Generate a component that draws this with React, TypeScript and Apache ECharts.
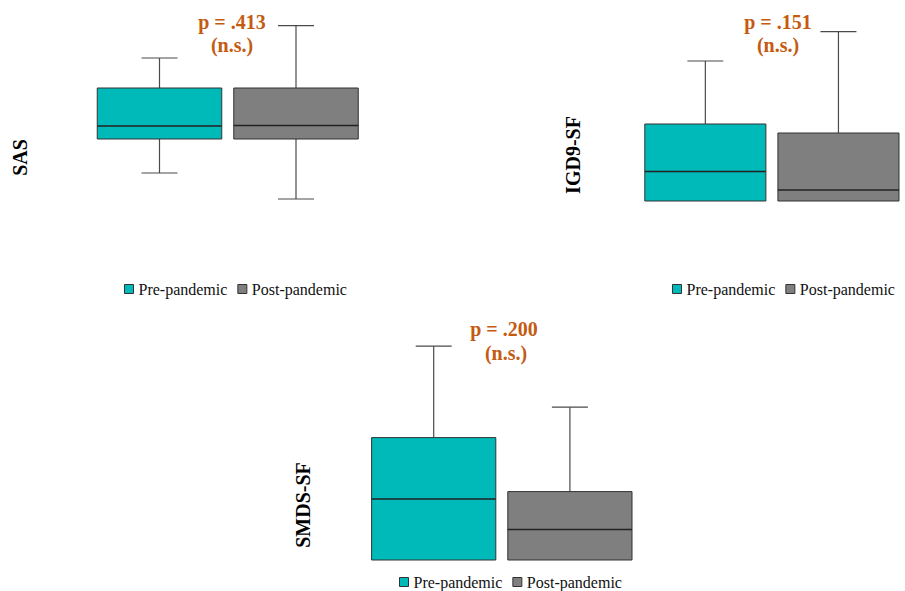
import React, { useEffect, useRef } from "react";
import * as echarts from "echarts";

// Box stats: [min, Q1, median, Q3, max] on an arbitrary (hidden) scale
const categories = ["Pre-pandemic", "Post-pandemic"];
const sasPre = [18.5, 35.5, 42, 61, 76];
const sasPost = [5.5, 35.5, 42.2, 61, 92.2];
const igdPre = [4.5, 4.5, 19.2, 43, 74.5];
const igdPost = [4.5, 4.5, 10, 38.5, 89.2];
const smdsPre = [5, 5, 35.5, 66.2, 111.9];
const smdsPost = [5, 5, 20.2, 39.2, 81.4];

const panelNames = ["SAS", "IGD9-SF", "SMDS-SF"];
const pLabels = ["p = .413", "p = .151", "p = .200"];
const nsLabel = "(n.s.)";

const TEAL = "#00B9B9";
const GRAY = "#7F7F7F";
const ORANGE = "#C55A11";
const FONT = '"Liberation Serif", "Times New Roman", serif';

function renderBox(params: any, api: any) {
  const x = api.value(0);
  const vMin = api.value(1);
  const vQ1 = api.value(2);
  const vMed = api.value(3);
  const vQ3 = api.value(4);
  const vMax = api.value(5);
  const [cx, yMin] = api.coord([x, vMin]);
  const yQ1 = api.coord([x, vQ1])[1];
  const yMed = api.coord([x, vMed])[1];
  const yQ3 = api.coord([x, vQ3])[1];
  const yMax = api.coord([x, vMax])[1];
  const band = api.size([1, 0])[0];
  const w = band - 12;
  const cap = 18;
  const color = api.visual("color");
  const wl = { stroke: "#4a4a4a", lineWidth: 1.2 };
  const children: any[] = [];
  if (vMax > vQ3) {
    children.push({ type: "line", shape: { x1: cx, y1: yQ3, x2: cx, y2: yMax }, style: wl });
    children.push({ type: "line", shape: { x1: cx - cap, y1: yMax, x2: cx + cap, y2: yMax }, style: wl });
  }
  if (vMin < vQ1) {
    children.push({ type: "line", shape: { x1: cx, y1: yQ1, x2: cx, y2: yMin }, style: wl });
    children.push({ type: "line", shape: { x1: cx - cap, y1: yMin, x2: cx + cap, y2: yMin }, style: wl });
  }
  children.push({
    type: "rect",
    shape: { x: cx - w / 2, y: yQ3, width: w, height: yQ1 - yQ3 },
    style: { fill: color, stroke: "#333333", lineWidth: 1 },
  });
  children.push({
    type: "line",
    shape: { x1: cx - w / 2, y1: yMed, x2: cx + w / 2, y2: yMed },
    style: { stroke: "#222222", lineWidth: 1.5 },
  });
  return { type: "group", children };
}

export default function App() {
  const ref = useRef<HTMLDivElement>(null);
  useEffect(() => {
    if (!ref.current) return;
    const chart = echarts.init(ref.current, null, { renderer: "svg" });
    const grids = [
      { left: 91.25, top: 10, width: 273, height: 200 },
      { left: 638.8, top: 10, width: 272, height: 200 },
      { left: 365.6, top: 320, width: 272.4, height: 250 },
    ];
    const yMax = [100, 100, 125];
    const panels = [
      [sasPre, sasPost],
      [igdPre, igdPost],
      [smdsPre, smdsPost],
    ];
    const series: any[] = [];
    panels.forEach((pair, i) => {
      pair.forEach((stats, j) => {
        series.push({
          type: "custom",
          name: categories[j],
          xAxisIndex: i,
          yAxisIndex: i,
          itemStyle: { color: j === 0 ? TEAL : GRAY },
          encode: { x: 0, y: [1, 2, 3, 4, 5] },
          data: [[j, ...stats]],
          renderItem: renderBox,
          clip: false,
        });
      });
    });
    const legendPos = [
      { left: 119, top: 276 },
      { left: 667, top: 276 },
      { left: 394, top: 569 },
    ];
    const textPos = [
      { lx: 20, ly: 157.5, px: 232, py: 21.5, nx: 232, ny: 45 },
      { lx: 572.5, ly: 155, px: 778, py: 21.5, nx: 778, ny: 45 },
      { lx: 302.5, ly: 505, px: 504, py: 328.5, nx: 506, ny: 353 },
    ];
    const graphic: any[] = [];
    textPos.forEach((t, i) => {
      graphic.push({
        type: "text",
        x: t.lx,
        y: t.ly,
        rotation: Math.PI / 2,
        style: {
          text: panelNames[i],
          font: `bold 20px ${FONT}`,
          fill: "#000",
          align: "center",
          verticalAlign: "middle",
        },
      });
      graphic.push({
        type: "text",
        x: t.px,
        y: t.py,
        style: {
          text: pLabels[i],
          font: `bold 20px ${FONT}`,
          fill: ORANGE,
          align: "center",
          verticalAlign: "middle",
        },
      });
      graphic.push({
        type: "text",
        x: t.nx,
        y: t.ny,
        style: {
          text: nsLabel,
          font: `bold 20px ${FONT}`,
          fill: ORANGE,
          align: "center",
          verticalAlign: "middle",
        },
      });
    });
    chart.setOption({
      animation: false,
      backgroundColor: "#ffffff",
      grid: grids,
      xAxis: grids.map((_, i) => ({
        type: "category",
        gridIndex: i,
        data: categories,
        show: false,
      })),
      yAxis: grids.map((_, i) => ({
        type: "value",
        gridIndex: i,
        min: 0,
        max: yMax[i],
        show: false,
        splitLine: { show: false },
      })),
      legend: legendPos.map((p) => ({
        left: p.left,
        top: p.top,
        data: categories,
        icon: "rect",
        itemWidth: 9,
        itemHeight: 9,
        itemGap: 10,
        itemStyle: { borderColor: "#333333", borderWidth: 1 },
        textStyle: { fontFamily: "Liberation Serif", fontSize: 16, color: "#111" },
        selectedMode: false,
      })),
      graphic,
      series,
    });
    return () => chart.dispose();
  }, []);
  return (
    <div
      ref={ref}
      style={{ position: "fixed", left: 0, top: 0, width: 905, height: 591 }}
    />
  );
}
